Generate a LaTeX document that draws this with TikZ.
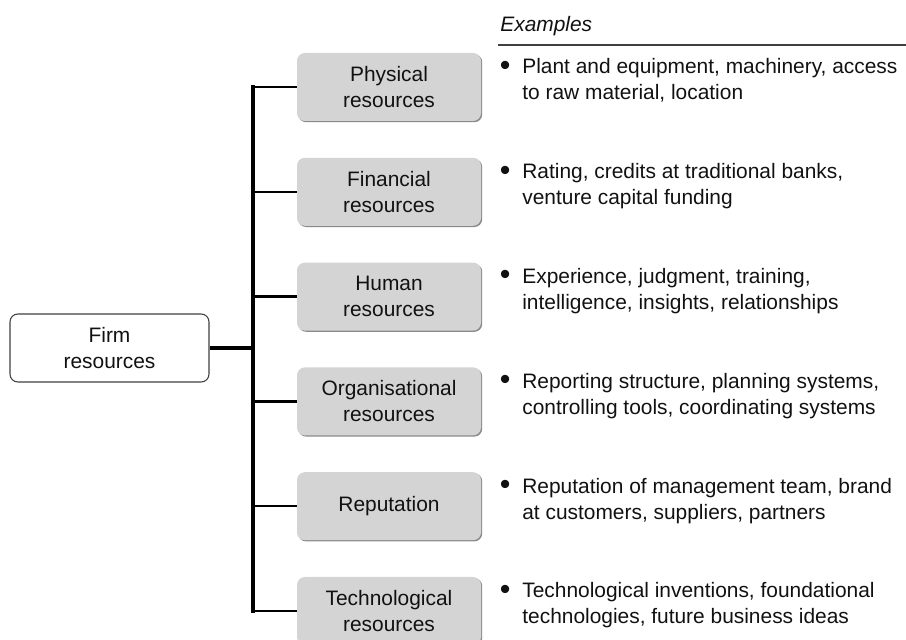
\documentclass[tikz,border=0pt]{standalone}
\usepackage{fontspec}
\setmainfont{Liberation Sans}
\usepackage{tikz}
\usetikzlibrary{
  positioning,
  calc,
  shadows,
}
\definecolor{ink}{HTML}{111111}
\definecolor{boxgrey}{HTML}{D4D4D4}
\definecolor{shade}{HTML}{8A8A8A}
\definecolor{frame}{HTML}{404040}
\definecolor{rulegrey}{HTML}{404040}
\newcommand{\exbullet}{\raisebox{-0.06em}{\scalebox{1.45}{\textbullet}}}
\tikzset{
  every node/.append style={text=ink},
  basefont/.style={font=\fontsize{11.9pt}{14.7pt}\selectfont},
  root/.style={
    basefont,
    draw=frame,
    fill=white,
    line width=0.6pt,
    rounded corners=4.5pt,
    minimum width=3.98cm,
    minimum height=1.36cm,
    inner sep=0pt,
    align=center,
  },
  resource/.style={
    basefont,
    fill=boxgrey,
    rounded corners=4.5pt,
    minimum width=3.68cm,
    minimum height=1.36cm,
    inner sep=0pt,
    align=center,
    drop shadow={shadow xshift=0.7pt, shadow yshift=-0.7pt, fill=shade, opacity=1},
  },
  example/.style={basefont, anchor=base west, inner sep=0pt},
  heading/.style={font=\fontsize{11.9pt}{14.7pt}\selectfont\itshape, anchor=base west, inner sep=0pt},
  trunk/.style={line width=1.9pt, line cap=rect},
  branch/.style={line width=1.4pt},
}

\begin{document}
\begin{tikzpicture}[x=1cm,y=1cm]
  \useasboundingbox (0,0) rectangle (18.12,12.78);

  \node[root] (firm) at (2.19,5.82) {Firm\\resources};
  \coordinate (fork) at (5.06,5.82);

  \node[heading] (exhead) at (10.0,12.14) {Examples};
  \draw[rulegrey, line width=0.6pt] (9.96,11.88) -- (18.12,11.88);

  % resource boxes with their examples
  \foreach \i/\lab/\exa/\exb in {
    0/{Physical\\resources}/{Plant and equipment, machinery, access}/{to raw material, location},
    1/{Financial\\resources}/{Rating, credits at traditional banks,}/{venture capital funding},
    2/{Human\\resources}/{Experience, judgment, training,}/{intelligence, insights, relationships},
    3/{Organisational\\resources}/{Reporting structure, planning systems,}/{controlling tools, coordinating systems},
    4/{Reputation}/{Reputation of management team, brand}/{at customers, suppliers, partners},
    5/{Technological\\resources}/{Technological inventions, foundational}/{technologies, future business ideas}} {
    \node[resource] (res\i) at (7.78,11.04-2.096*\i) {\lab};
    \node[example] (ex\i) at ($(res\i.center)+(2.21,0.26)$)
      {\begin{tabular}[t]{@{}p{0.45cm}@{}l@{}}\exbullet & \exa\\ & \exb\end{tabular}};
    \draw[branch] (fork |- res\i.west) -- (res\i.west);
  }

  \draw[trunk] (fork |- res0.west) -- (fork |- res5.west);
  \draw[line width=2.1pt] (firm.east) -- (fork);
\end{tikzpicture}
\end{document}
